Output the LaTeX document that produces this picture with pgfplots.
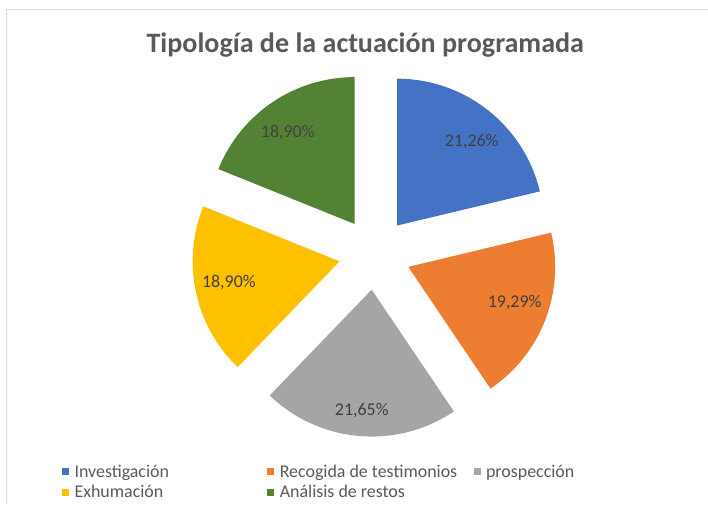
\documentclass[border=0pt]{standalone}
\usepackage{fontspec}
\setmainfont{Carlito}
\usepackage{pgfplots}
\usepackage{pgfplotstable}
\pgfplotsset{compat=1.18}
\definecolor{cblue}{HTML}{4472C4}
\definecolor{corange}{HTML}{ED7D31}
\definecolor{cgray}{HTML}{A5A5A5}
\definecolor{cyellow}{HTML}{FFC000}
\definecolor{cgreen}{HTML}{548235}
\definecolor{ctitle}{HTML}{595959}
\definecolor{clabel}{HTML}{404040}
\definecolor{cframe}{HTML}{D9D9D9}

\pgfplotstableread[col sep=semicolon]{
name;value;col;lx;ly;pct
Investigación;21.26;cblue;472;362;21,26
Recogida de testimonios;19.29;corange;515;201;19,29
prospección;21.65;cgray;362;93;21,65
Exhumación;18.90;cyellow;229;221;18,90
Análisis de restos;18.90;cgreen;288;371;18,90
}\piedata

\begin{document}
\begin{tikzpicture}
\begin{axis}[
  x=1bp, y=1bp,
  xmin=0, xmax=708, ymin=0, ymax=504,
  hide axis, clip=false,
  legend columns=3,
  legend cell align=left,
  legend image code/.code={\fill[#1] (0bp,-2.5bp) rectangle (6bp,3.5bp); \path (10bp,0);},
  legend style={at={(axis cs:62,41)}, anchor=north west, draw=none, fill=none,
    font=\fontsize{18}{21}\selectfont, text=ctitle,
    /tikz/every odd column/.style={column sep=0pt},
    /tikz/every even column/.style={column sep=0pt},
    row sep=2.5bp, inner sep=0pt},
]
\path (axis cs:0,0) rectangle (axis cs:708,504);
\draw[cframe, line width=1bp] (axis cs:7,0) -- (axis cs:7,494) -- (axis cs:708,494);

\def\start{90}
\pgfplotsforeachungrouped \i in {0,...,4}{
  \pgfplotstablegetelem{\i}{value}\of\piedata \let\v=\pgfplotsretval
  \pgfplotstablegetelem{\i}{col}\of\piedata \let\c=\pgfplotsretval
  \pgfmathsetmacro\ang{\v*3.6}
  \pgfmathsetmacro\midang{\start-\ang/2}
  \pgfmathsetmacro\stopang{\start-\ang}
  \edef\cmd{\noexpand\fill[\c] ([shift={(\midang:36bp)}]axis cs:375,250) -- ++(\start:147bp) arc[start angle=\start, end angle=\stopang, radius=147bp] -- cycle;}
  \cmd
  \global\let\start=\stopang
}

\addplot[forget plot, draw=none, mark=none, nodes near coords={\pgfplotspointmeta\%},
  point meta=explicit symbolic,
  nodes near coords style={anchor=center, text=clabel, font=\fontsize{18}{21}\selectfont}]
  table[x=lx, y=ly, meta=pct] {\piedata};

\node[font=\bfseries\fontsize{28.2}{34}\selectfont, text=ctitle] at (axis cs:365.5,459) {Tipología de la actuación programada};

\addlegendimage{cblue}
\addlegendentry{\makebox[191bp][l]{Investigación}}
\addlegendimage{corange}
\addlegendentry{\makebox[192bp][l]{Recogida de testimonios}}
\addlegendimage{cgray}
\addlegendentry{prospección}
\addlegendimage{cyellow}
\addlegendentry{\makebox[191bp][l]{Exhumación}}
\addlegendimage{cgreen}
\addlegendentry{\makebox[192bp][l]{Análisis de restos}}
\end{axis}
\end{tikzpicture}
\end{document}
